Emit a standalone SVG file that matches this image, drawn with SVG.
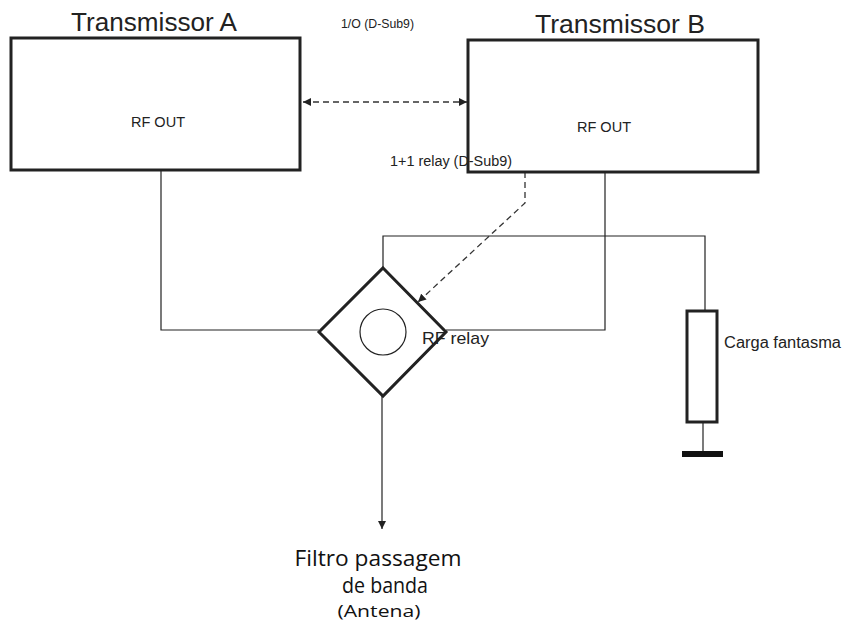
<svg xmlns="http://www.w3.org/2000/svg" width="842" height="623" viewBox="0 0 842 623">
<style>
.box{fill:#fff;stroke:#222;stroke-width:3}
.ln{fill:none;stroke:#222;stroke-width:1.2}
.dash{fill:none;stroke:#333;stroke-width:1.3;stroke-dasharray:6,4}
.t{font-family:"Liberation Sans",Arial,sans-serif;fill:#222}
.c{font-family:"Open Sans","Noto Sans",sans-serif;fill:#111}
</style>
<defs>
<marker id="ah" viewBox="0 0 10 10" refX="10" refY="5" markerWidth="8" markerHeight="8" markerUnits="userSpaceOnUse" orient="auto-start-reverse">
<path d="M0,0 L10,5 L0,10 Z" fill="#222"/>
</marker>
</defs>
<rect width="842" height="623" fill="#fff"/>
<g id="connectors">
<polyline class="ln" points="161,171 161,330 319,330"/>
<polyline class="ln" points="605,172 605,330 446,330"/>
<polyline class="ln" points="383,268 383,236 705,236 705,311"/>
<line class="ln" x1="703" y1="422" x2="703" y2="451"/>
<line class="ln" x1="382" y1="396" x2="382" y2="529" marker-end="url(#ah)"/>
<line class="dash" x1="303" y1="102" x2="467" y2="102" marker-start="url(#ah)" marker-end="url(#ah)"/>
<polyline class="dash" points="525,172 525,203 418,302" marker-end="url(#ah)"/>
</g>
<g id="transmissorA">
<rect class="box" x="11" y="38" width="289" height="132"/>
<text class="t" x="154" y="31" font-size="25" text-anchor="middle" textLength="166" lengthAdjust="spacingAndGlyphs">Transmissor A</text>
<text class="t" x="158" y="127" font-size="14" text-anchor="middle" textLength="54" lengthAdjust="spacingAndGlyphs">RF OUT</text>
</g>
<g id="transmissorB">
<rect class="box" x="468" y="40" width="290" height="132"/>
<text class="t" x="620" y="33" font-size="25" text-anchor="middle" textLength="170" lengthAdjust="spacingAndGlyphs">Transmissor B</text>
<text class="t" x="604" y="132" font-size="14" text-anchor="middle" textLength="54" lengthAdjust="spacingAndGlyphs">RF OUT</text>
</g>
<text class="t" x="341" y="28" font-size="12" textLength="73" lengthAdjust="spacingAndGlyphs">1/O (D-Sub9)</text>
<text class="t" x="390" y="166" font-size="14" textLength="122" lengthAdjust="spacingAndGlyphs">1+1 relay (D-Sub9)</text>
<g id="rfrelay">
<polygon class="box" points="383,268 446,332 383,396 319,332"/>
<circle cx="383" cy="332" r="23" fill="none" stroke="#222" stroke-width="1.2"/>
<text class="t" x="422" y="344" font-size="17" textLength="67" lengthAdjust="spacingAndGlyphs">RF relay</text>
</g>
<g id="carga">
<rect class="box" x="687" y="311" width="30" height="111"/>
<rect x="682" y="451" width="41" height="6" fill="#111"/>
<text class="t" x="724" y="348" font-size="16" textLength="117" lengthAdjust="spacingAndGlyphs">Carga fantasma</text>
</g>
<g id="filtro">
<text class="c" x="378" y="566" font-size="21" text-anchor="middle" textLength="167" lengthAdjust="spacingAndGlyphs">Filtro passagem</text>
<text class="c" x="385" y="593" font-size="21" text-anchor="middle" textLength="86" lengthAdjust="spacingAndGlyphs">de banda</text>
<text class="c" x="379" y="617" font-size="17" text-anchor="middle" textLength="83" lengthAdjust="spacingAndGlyphs">(Antena)</text>
</g>
</svg>
